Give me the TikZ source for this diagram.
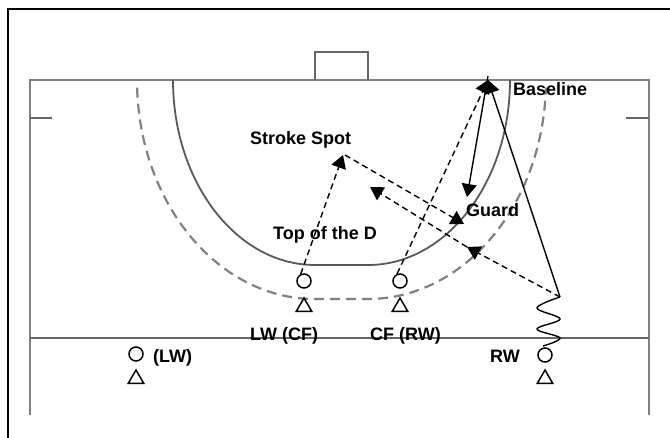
\documentclass[tikz,border=0pt]{standalone}
\usepackage{fontspec}
\setmainfont{Liberation Sans}
\usetikzlibrary{arrows.meta,shapes.geometric}
\begin{document}
\begin{tikzpicture}[x=1pt,y=-1pt,
  fieldline/.style={draw=black!50, line width=2.2pt},
  thinfield/.style={draw=black!60, line width=1.6pt},
  dline/.style={draw=black!65, line width=1.8pt},
  ddash/.style={draw=black!50, line width=2.2pt, dash pattern=on 10pt off 6pt},
  run/.style={line width=1.4pt, -{Triangle[length=13pt,width=15pt]}},
  dashrun/.style={run, dash pattern=on 6pt off 4pt},
  player/.style={circle, draw, line width=1.5pt, minimum size=14pt, inner sep=0pt},
  defender/.style={regular polygon, regular polygon sides=3, draw, line width=1.5pt, minimum size=18pt, inner sep=0pt},
  lbl/.style={font=\fontsize{18}{20}\selectfont\bfseries, inner sep=0pt, anchor=base west}]
\useasboundingbox (0,0) rectangle (670,438);
% outer frame
\draw[line width=2pt] (8,438) -- (8,9) -- (670,9);
% field
\draw[fieldline] (30,415) -- (30,80) -- (649,80) -- (649,415);
\draw[thinfield] (30,338) -- (649,338);
\draw[thinfield] (30,118) -- (52,118);
\draw[thinfield] (626,118) -- (649,118);
\draw[thinfield] (315,80) -- (315,52) -- (368,52) -- (368,80);
% the D
\draw[dline] (173,80) arc[start angle=180, end angle=270, x radius=142pt, y radius=185pt]
  -- (368,265) arc[start angle=270, end angle=360, x radius=142pt, y radius=185pt];
% dashed 5-yard line
\draw[ddash] (315,80) ++(182:178pt and 219pt) arc[start angle=182, end angle=270, x radius=178pt, y radius=219pt]
  -- (368,299) arc[start angle=270, end angle=358, x radius=178pt, y radius=219pt];
% players
\node[player] (lwcf) at (304,281) {};
\node[defender] (dlwcf) at (304,307) {};
\node[player] (cfrw) at (400,281) {};
\node[defender] (dcfrw) at (400,307) {};
\node[player] (lw) at (136,354) {};
\node[defender] (dlw) at (136,379) {};
\node[player] (rw) at (545,355) {};
\node[defender] (drw) at (545,379) {};
% key points
\coordinate (ss) at (343,155);
\coordinate (ssb) at (345,155);
\coordinate (ap) at (488,80);
\coordinate (aps) at (488,76);
\coordinate (gd) at (467,197);
\coordinate (ga) at (464,224);
\coordinate (zz) at (560,297);
\coordinate (mid) at (467,247);
\coordinate (bend) at (370,187);
% dribble
\draw[line width=1.4pt] plot[smooth, tension=0.6] coordinates {(560,297) (537,308) (560,319) (537,329) (560,338) (543,346)};
% runs and passes
\draw[dashrun] (lwcf.115) -- (ss);
\draw[dashrun] (ssb) -- (ga);
\draw[dashrun] (zz) -- (mid);
\draw[dashrun] (mid) -- (bend);
\draw[dashrun] (cfrw.112) -- (ap);
\draw[run] (zz) -- (ap);
\draw[run] (aps) -- (gd);
% labels
\node[lbl] (tbase) at (513,96) {Baseline};
\node[lbl] (tss) at (250,145) {Stroke Spot};
\node[lbl] (tgd) at (466,217) {Guard};
\node[lbl] (ttop) at (273,240) {Top of the D};
\node[lbl] (tlwcf) at (250,341) {LW (CF)};
\node[lbl] (tcfrw) at (370,341) {CF (RW)};
\node[lbl] (tlw) at (153,363) {(LW)};
\node[lbl] (trw) at (490,363) {RW};
\end{tikzpicture}
\end{document}
